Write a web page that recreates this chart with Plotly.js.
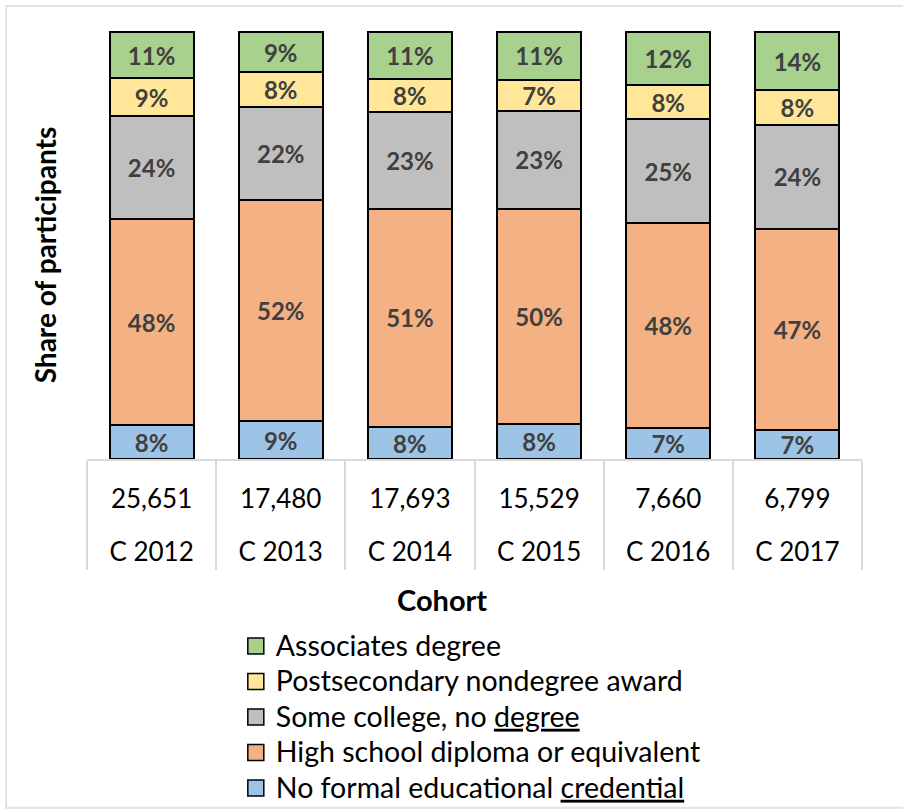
<!DOCTYPE html>
<html><head><meta charset="utf-8">
<script src="https://cdn.plot.ly/plotly-3.0.1.min.js"></script>
<style>html,body{margin:0;padding:0;background:#fff;} #chart{width:903px;height:810px;}</style>
</head><body><div id="chart"></div>
<script>
// ---- data ----
const cohorts = ["C 2012","C 2013","C 2014","C 2015","C 2016","C 2017"];
const participants = ["25,651","17,480","17,693","15,529","7,660","6,799"];
const seriesNames = ["No formal educational credential","High school diploma or equivalent","Some college, no degree","Postsecondary nondegree award","Associates degree"];
const noFormal      = [7.9, 8.8, 7.5, 8.2, 7.3, 6.9];
const highSchool    = [48.4, 51.8, 51.2, 50.4, 47.9, 47.1];
const someCollege   = [24.0, 21.9, 22.6, 23.0, 24.5, 24.2];
const postsecondary = [9.0, 8.1, 7.8, 7.3, 7.9, 8.2];
const associates    = [10.7, 9.4, 10.9, 11.1, 12.4, 13.6];
const seriesColors = ["#9DC3E6","#F4B183","#BFBFBF","#FFE699","#A9D18E"];

// ---- layout geometry ----
const WIDTH=903, HEIGHT=810;
const L=87.3, R=41.3, T=28.4, B=350.7;
const PW=WIDTH-L-R, PH=HEIGHT-T-B;
const px2x = p => (p-L)/PW;
const px2y = p => (HEIGHT-B-p)/PH;

const xs = cohorts.map((c,i)=>i);
const seriesValues = [noFormal, highSchool, someCollege, postsecondary, associates];

const FONT = 'Lato, "Open Sans", sans-serif';
const traces = [];
seriesValues.forEach((vals, k) => {
  traces.push({
    type:'bar', x:xs, y:vals, name:seriesNames[k], showlegend:false,
    marker:{color:seriesColors[k], line:{color:'#000', width:2}},
    text: vals.map(v => Math.round(v) + '%'),
    textposition:'inside', insidetextanchor:'middle', textangle:0, constraintext:'none',
    textfont:{family:FONT, size:24, color:'#404040', weight:700},
    hoverinfo:'skip'
  });
});

const underline = w => '<span style="text-decoration:underline double #4472C4">' + w + '</span>';
const legendLabel = n => {
  const t = n === "Some college, no degree" ? "Some college, no " + underline("degree")
    : n === "No formal educational credential" ? "No formal educational " + underline("credential") : n;
  return '<span style="font-size:28.5px">' + t + '</span>';
};

// legend entries (top to bottom: Associates ... No formal)
for (let k = seriesNames.length-1; k >= 0; k--) {
  traces.push({
    type:'scatter', mode:'markers', x:[null], y:[null], xaxis:'x2', yaxis:'y',
    name: legendLabel(seriesNames[k]),
    marker:{symbol:'square', size:16, color:seriesColors[k], line:{color:'#000', width:1.5}},
    hoverinfo:'skip'
  });
}

const layout = {
  width:WIDTH, height:HEIGHT,
  margin:{l:L, r:R, t:T, b:B, pad:0, autoexpand:false},
  barmode:'stack', bargap:0.35,
  paper_bgcolor:'#fff', plot_bgcolor:'#fff',
  font:{family:FONT, color:'#000'},
  showlegend:true,
  xaxis:{
    range:[-0.5,5.5], tickmode:'array', tickvals:xs, ticktext:participants,
    ticks:'', showgrid:false, zeroline:false,
    showline:true, linecolor:'#d9d9d9', linewidth:2,
    tickfont:{family:FONT, size:26, color:'#000'}, ticklabelstandoff:16,
    minor:{tickmode:'linear', tick0:-0.5, dtick:1, ticks:'outside', ticklen:109, tickwidth:2, tickcolor:'#d9d9d9', showgrid:false},
    fixedrange:true
  },
  xaxis2:{
    range:[-0.5,5.5], overlaying:'x', anchor:'y', side:'bottom',
    tickmode:'array', tickvals:xs, ticktext:cohorts,
    ticks:'', showgrid:false, zeroline:false, showline:false,
    tickfont:{family:FONT, size:26, color:'#000'}, ticklabelstandoff:75,
    fixedrange:true
  },
  yaxis:{range:[0,101], visible:false, fixedrange:true},
  legend:{
    x:px2x(236), y:px2y(623.5), xanchor:'left', yanchor:'top',
    traceorder:'normal', tracegroupgap:0, bgcolor:'rgba(0,0,0,0)', borderwidth:0,
    font:{family:FONT, size:25, color:'#000'}
  },
  annotations:[
    {xref:'paper', yref:'paper', x:px2x(45), y:px2y(255), text:'<b>Share of participants</b>', textangle:-90,
     showarrow:false, xanchor:'center', yanchor:'middle', font:{family:FONT, size:28, color:'#000'}},
    {xref:'paper', yref:'paper', x:px2x(442), y:px2y(600), text:'<b>Cohort</b>',
     showarrow:false, xanchor:'center', yanchor:'middle', font:{family:FONT, size:29, color:'#000'}}
  ],
  shapes:[
    {type:'rect', xref:'paper', yref:'paper', x0:px2x(6.5), x1:px2x(915), y0:px2y(6.5), y1:px2y(808),
     line:{color:'#e3e3e3', width:2}, fillcolor:'rgba(0,0,0,0)', layer:'below'}
  ]
};

Plotly.newPlot('chart', traces, layout, {staticPlot:true, displayModeBar:false});
</script>
</body></html>
